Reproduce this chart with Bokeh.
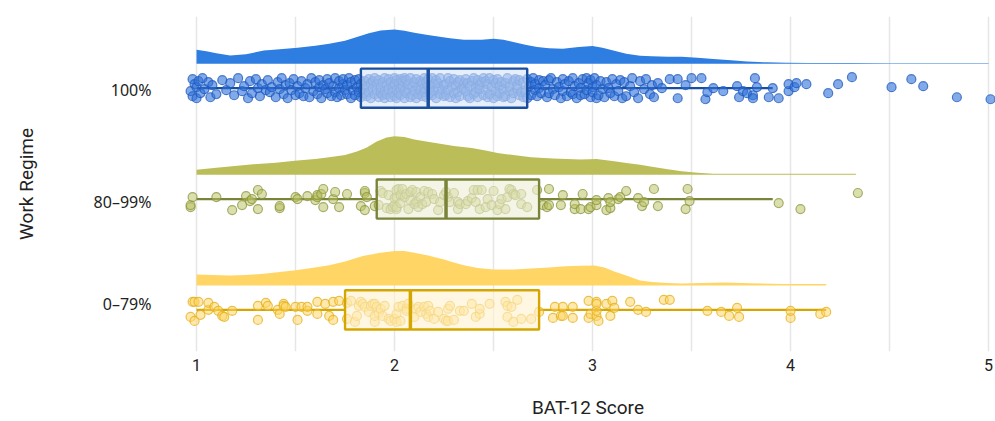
from bokeh.plotting import figure
from bokeh.models import Range1d, FixedTicker
from bokeh.embed import file_html
from bokeh.resources import INLINE

# ---------------- data ----------------
groups = ["100%", "80–99%", "0–79%"]
group_pos = [3, 2, 1]
label_pos = [2.986, 1.973, 1.050]

# box statistics: lower whisker, Q1, median, Q3, upper whisker
whisk_lo = [1.00, 1.00, 1.00]
q1 = [1.83, 1.91, 1.75]
median = [2.17, 2.26, 2.08]
q3 = [2.67, 2.73, 2.73]
whisk_hi = [3.91, 3.91, 4.18]

# density curves (x grid, relative height)
dens_x_100 = [1.00, 1.05, 1.10, 1.17, 1.25, 1.34, 1.42, 1.51, 1.60, 1.67, 1.75, 1.81, 1.87, 1.93,
              2.00, 2.05, 2.10, 2.16, 2.22, 2.28, 2.35, 2.44, 2.50, 2.55, 2.60, 2.66, 2.72, 2.78,
              2.85, 2.93, 3.00, 3.05, 3.11, 3.17, 3.24, 3.30, 3.38, 3.45, 3.53, 3.61, 3.70, 3.78,
              3.88, 3.98, 4.10, 4.30, 4.50, 4.75, 5.00]
dens_h_100 = [14, 12.5, 10.5, 8.3, 9.5, 13.3, 14.5, 16, 18, 20, 23, 26.7, 30.5, 33.3,
              34.3, 33, 31, 29, 27.3, 25.5, 24, 24, 25, 24, 21.7, 19, 16.7, 15.5,
              15, 16.7, 17.7, 16, 13, 10, 8, 7.5, 7, 7, 6, 4.7, 3.5, 2.3,
              1.5, 1.1, 0.9, 0.8, 0.7, 0.6, 0.6]
dens_x_80 = [1.00, 1.10, 1.26, 1.40, 1.51, 1.60, 1.67, 1.75, 1.81, 1.86, 1.91, 1.96, 2.00, 2.05,
             2.10, 2.16, 2.23, 2.30, 2.39, 2.46, 2.52, 2.60, 2.69, 2.80, 2.94, 3.02, 3.11, 3.18,
             3.24, 3.30, 3.38, 3.45, 3.53, 3.61, 3.70, 3.80, 4.00, 4.20, 4.33]
dens_h_80 = [5, 7, 10, 12, 14, 15.5, 17.3, 19.5, 23, 27, 33, 37, 38.3, 37.5,
             35, 33, 30.7, 28.5, 26.7, 24, 21.7, 19.5, 17.3, 16, 15, 15.7, 13.3, 11.5,
             10, 8, 5.5, 3.3, 1.8, 0.9, 0.8, 0.9, 1.0, 1.0, 1.0]
dens_x_0 = [1.00, 1.08, 1.17, 1.25, 1.34, 1.42, 1.50, 1.58, 1.67, 1.75, 1.84, 1.92, 2.00, 2.05,
            2.10, 2.17, 2.25, 2.30, 2.35, 2.42, 2.50, 2.60, 2.69, 2.78, 2.86, 2.94, 3.01, 3.06,
            3.11, 3.17, 3.24, 3.30, 3.38, 3.45, 3.55, 3.67, 3.80, 3.96, 4.18]
dens_h_0 = [11, 10.5, 10, 10.5, 11.7, 13.5, 15.3, 17.5, 20.3, 24, 29.3, 32.5, 34.5, 34.3,
            32.7, 30, 26, 23, 20.3, 17.5, 16, 16, 17, 18, 19.3, 19.8, 20, 18,
            14, 10, 5, 3.5, 2.5, 2, 2.5, 3, 2.2, 1.6, 1.5]

# individual scores and their vertical jitter
score_100 = [
    0.97, 0.98, 0.98, 0.99, 1.00, 1.00, 1.01, 1.02, 1.03, 1.04, 1.06, 1.07, 1.08, 1.10, 1.13, 1.15,
    1.17, 1.19, 1.21, 1.23, 1.24, 1.26, 1.27, 1.28, 1.30, 1.31, 1.32, 1.33, 1.35,
    1.36, 1.37, 1.38, 1.40, 1.41, 1.42, 1.43, 1.44, 1.45, 1.46, 1.47, 1.48, 1.49, 1.50, 1.51, 1.52, 1.53, 1.54, 1.55,
    1.56, 1.57, 1.58, 1.59, 1.60, 1.61, 1.62, 1.62, 1.63, 1.64, 1.65, 1.66, 1.66, 1.67, 1.68, 1.69, 1.70, 1.70, 1.71, 1.72, 1.72, 1.73, 1.74, 1.74, 1.75,
    1.76, 1.76, 1.77, 1.78, 1.78, 1.79, 1.80, 1.80, 1.81, 1.82, 1.82, 1.83, 1.83, 1.84, 1.85, 1.85,
    1.86, 1.86, 1.87, 1.87, 1.88, 1.88, 1.89, 1.89, 1.90, 1.90, 1.91, 1.91, 1.92, 1.92, 1.93, 1.93, 1.94, 1.94, 1.95, 1.95, 1.95,
    1.96, 1.96, 1.97, 1.97, 1.98, 1.98, 1.99, 1.99, 2.00, 2.00, 2.00, 2.01, 2.01, 2.01, 2.02, 2.02, 2.03, 2.03, 2.03, 2.04, 2.04, 2.05, 2.05, 2.05,
    2.06, 2.06, 2.07, 2.07, 2.08, 2.08, 2.09, 2.09, 2.10, 2.10, 2.11, 2.11, 2.12, 2.12, 2.13, 2.13, 2.14, 2.14, 2.15, 2.15, 2.15,
    2.16, 2.16, 2.17, 2.17, 2.18, 2.18, 2.19, 2.19, 2.20, 2.20, 2.21, 2.21, 2.22, 2.22, 2.23, 2.23, 2.24, 2.25, 2.25,
    2.26, 2.26, 2.27, 2.27, 2.28, 2.28, 2.29, 2.30, 2.30, 2.31, 2.31, 2.32, 2.32, 2.33, 2.33, 2.34, 2.35, 2.35,
    2.36, 2.36, 2.37, 2.37, 2.38, 2.38, 2.39, 2.40, 2.40, 2.41, 2.41, 2.42, 2.42, 2.43, 2.43, 2.44, 2.45, 2.45,
    2.46, 2.46, 2.47, 2.47, 2.48, 2.48, 2.49, 2.50, 2.50, 2.51, 2.51, 2.52, 2.52, 2.53, 2.53, 2.54, 2.55, 2.55,
    2.56, 2.56, 2.57, 2.58, 2.58, 2.59, 2.60, 2.60, 2.61, 2.62, 2.62, 2.63, 2.63, 2.64, 2.65, 2.65,
    2.66, 2.67, 2.67, 2.68, 2.69, 2.69, 2.70, 2.71, 2.71, 2.72, 2.73, 2.73, 2.74, 2.75,
    2.76, 2.77, 2.78, 2.78, 2.79, 2.80, 2.81, 2.82, 2.83, 2.84, 2.85, 2.85, 2.86, 2.87, 2.88, 2.89, 2.90, 2.90, 2.91, 2.92, 2.93, 2.94, 2.94, 2.95,
    2.96, 2.97, 2.97, 2.98, 2.99, 2.99, 3.00, 3.00, 3.01, 3.02, 3.02, 3.03, 3.04, 3.05, 3.06, 3.07, 3.08, 3.09, 3.10, 3.11, 3.12, 3.13, 3.14, 3.15,
    3.16, 3.17, 3.19, 3.20, 3.21, 3.23, 3.24, 3.26, 3.27, 3.29, 3.30, 3.31, 3.33, 3.35,
    3.39, 3.43, 3.43, 3.47, 3.50, 3.55, 3.57, 3.58, 3.61, 3.66, 3.73, 3.74, 3.76, 3.78, 3.81, 3.81, 3.82, 3.83,
    3.89, 3.91, 3.94, 3.99, 3.99, 4.02, 4.03, 4.08, 4.19, 4.24, 4.31, 4.51, 4.61, 4.67, 4.84, 5.01]
jitter_100 = [
    -3, 9, -8, 4, -10, 1, 7, -5, 10, -1, 6, -9, 3, -6, 8, -2,
    5, -7, 10, -3, 2, -10, 7, -5, 9, 0, -8, 4, -2,
    8, -4, 1, -9, 6, -1, 10, -6, 3, -10, 5, -2, 9, -7, 2, -5, 7, -8, 0,
    4, -9, 10, -3, 6, -6, 1, 8, -10, 3, -1, 9, -5, 5, -8, 2, 10, -4, -9, 7, 0, -7, 4, 9, -2,
    -6, 3, 10, -10, 6, -2, 8, -7, 1, -4, 9, -9, 4, -1, 7, -5,
    2, -8, 9, -4, 5, -10, 0, 7, -6, 10, -2, 4, -9, 8, -5, 1, -7, 6, -3, 10, -10,
    3, -6, 9, -1, -9, 6, 1, -4, 10, -8, 4, -2, 8, -10, 5, -5, 0, 9, -7, 2, 7, -3, -10, 10,
    -5, 8, -1, 4, -9, 10, -7, 2, 6, -3, 9, -10, 1, -6, 7, -2, 5, -8, 10, 0, -4,
    6, -9, 2, 9, -5, -1, 10, -7, 4, -3, 8, -10, 0, 5, -6, 10, -2, 3, -8,
    -7, 4, 10, -2, -9, 7, 1, -5, 9, -10, 3, 6, -4, 8, -8, 0, 5, -1,
    9, -3, -8, 5, 2, -10, 7, -6, 10, 0, -4, 8, -9, 3, -1, 6, -7, 10,
    -2, 7, -9, 4, 10, -6, 1, -10, 8, -3, 5, -8, 9, 2, -5, 6, -1, -9,
    5, -8, 10, -3, 1, -10, 7, -5, 9, -1, 3, -7, 8, -4, 6, -9,
    -4, 9, -10, 2, 6, -7, 10, -2, 4, -8, 8, 0, -5, 7,
    3, -9, 8, -5, 10, -1, -7, 6, 1, -10, 9, -3, 4, -8, 7, -4, 10, -6, 2, -10, 5, 0, -7, 9,
    -6, 10, -2, 5, -9, 8, 1, -4, 10, -10, 3, -7, 7, -1, -9, 6, 0, -5, 9, -8, 4, -3, 8, -10,
    6, -8, 2, 10, -4, -10, 7, -1, 9, -6, 3, -9, 5, 0,
    9, 9, -10, 3, 10, 10, -11, -4, 0, -3, 2, -9, -3, -5, -7, -10, 10, 1,
    -9, 0, -10, -3, 4, 1, 5, 4, -5, 4, 11, 1, 9, 2, -9, -11]

score_80 = [
    0.97, 0.97, 0.98, 1.10, 1.18, 1.23, 1.25, 1.27, 1.28, 1.31, 1.31, 1.33, 1.42, 1.42, 1.50, 1.51,
    1.56, 1.60, 1.61, 1.61, 1.63, 1.64, 1.64, 1.69, 1.70, 1.72, 1.76, 1.83, 1.85, 1.85, 1.85, 1.86,
    1.90, 1.92, 1.93, 1.94, 1.96,
    1.97, 1.98, 1.99, 2.00, 2.00, 2.01, 2.01, 2.01, 2.01, 2.02, 2.03, 2.03, 2.04, 2.05, 2.06, 2.07,
    2.08, 2.08, 2.09, 2.10, 2.11, 2.11, 2.12, 2.13, 2.14, 2.15, 2.16, 2.17, 2.19, 2.20, 2.22, 2.23,
    2.25, 2.26, 2.27, 2.28, 2.30, 2.32, 2.32, 2.33, 2.36, 2.37, 2.39, 2.40, 2.41, 2.42, 2.43, 2.44,
    2.46, 2.47, 2.49, 2.50, 2.52, 2.53, 2.54, 2.56, 2.57, 2.58, 2.59, 2.60, 2.61, 2.64, 2.64, 2.67, 2.72,
    2.75, 2.77, 2.78, 2.78, 2.84, 2.85, 2.91, 2.91, 2.94, 2.95, 2.98, 2.99, 3.02, 3.02, 3.07, 3.08,
    3.09, 3.09, 3.13, 3.14, 3.17, 3.23, 3.25, 3.26, 3.31, 3.33, 3.47, 3.48, 3.49, 3.94, 4.05, 4.34]
jitter_80 = [
    -8, -6, 2, 2, -11, -6, 3, -2, 0, 9, -10, 5, -9, -7, 2, 0,
    3, -1, 2, 4, 5, -8, 10, 0, 7, -8, 5, -7, -11, 6, 8, 2,
    -7, -6, 8, 6, -9,
    4, -10, -8, -6, 1, -10, -8, 2, 9, 10, 4, -4, 10, 2, 5, -10,
    -1, 7, 9, -5, -3, 7, -8, 2, -5, 8, -3, 7, 5, 0, -11, -3,
    4, 7, 2, -3, 6, -3, -10, -5, -5, -2, 1, 9, -3, 9, -10, 9,
    -8, 0, -6, 8, -11, -5, 0, -10, 2, 10, 9, 5, 4, -5, 5, -8, 9,
    -6, -8, 10, -6, -6, 4, -10, -5, -10, 5, -10, -8, -6, -1, -11, 1,
    -9, -3, 0, 2, 8, 1, -7, -3, 10, -7, -10, 10, -2, -4, -10, 6]

score_0 = [
    0.97, 0.99, 0.98, 0.99, 1.01, 1.02, 1.06, 1.06, 1.09, 1.11, 1.13, 1.14, 1.18, 1.31, 1.31, 1.35,
    1.36, 1.41, 1.42, 1.44, 1.44, 1.45, 1.51, 1.50, 1.53, 1.56, 1.56, 1.61, 1.61, 1.65, 1.67, 1.69,
    1.69, 1.72, 1.76, 1.76, 1.78,
    1.80, 1.81, 1.82, 1.83, 1.84, 1.85, 1.87, 1.88, 1.89, 1.90, 1.90, 1.90, 1.91, 1.92, 1.93, 1.94,
    1.95, 1.97, 1.98, 2.00, 2.01, 2.01, 2.02, 2.03, 2.04, 2.06, 2.06, 2.07, 2.10, 2.11, 2.12, 2.13,
    2.15, 2.16, 2.17, 2.17, 2.18, 2.20, 2.22, 2.25, 2.26, 2.27, 2.27, 2.28, 2.30, 2.33, 2.35, 2.39,
    2.41, 2.43, 2.43, 2.48, 2.56, 2.57, 2.57, 2.59, 2.60, 2.62, 2.64, 2.69,
    2.73, 2.80, 2.81, 2.84, 2.85, 2.85, 2.90, 2.90, 2.98, 2.98, 2.99, 3.02, 3.02, 3.03, 3.02, 3.02,
    3.07, 3.09, 3.10, 3.11, 3.19, 3.23, 3.27, 3.36, 3.39, 3.58, 3.65, 3.69, 3.73, 3.74, 4.00, 4.00,
    4.15, 4.18]
jitter_0 = [
    -7, -11, 8, 8, 8, -5, 0, 7, 3, -1, -6, -7, -1, -10, 4, 7,
    4, 0, -4, 6, 4, 3, -10, 3, 3, -1, 3, -4, 8, 6, -6, -10,
    8, 9, -9, 7, 9,
    -12, -6, 4, 8, 6, 3, -2, 4, 6, -12, -6, 6, 3, -3, 1, -6,
    4, -9, -11, -9, -4, -12, 3, -11, 4, 1, -1, 6, -7, 1, 3, -2,
    3, -4, 4, -7, -1, -9, -2, -9, -11, -11, 1, 4, -10, -1, -1, 6,
    -7, -4, 1, 6, 8, -7, 4, 3, -12, 10, -9, -9,
    -2, -8, 3, -6, 3, -6, -8, 3, -8, 9, -4, -6, -1, -11, 8, 6,
    6, -6, 9, 2, 8, 0, -2, 10, 10, -1, -2, -6, 2, -7, -8, -1,
    -4, -2]

scores = [score_100, score_80, score_0]
jitters = [jitter_100, jitter_80, jitter_0]
dens_x = [dens_x_100, dens_x_80, dens_x_0]
dens_h = [dens_h_100, dens_h_80, dens_h_0]

x_ticks = [1, 2, 3, 4, 5]
grid_ticks = [1, 1.5, 2, 2.5, 3, 3.5, 4, 4.5, 5]

# ---------------- styling ----------------
dens_col = ["#2e7de1", "#bbbe58", "#ffd666"]
pt_fill = ["#2f72d8", "#b7bf5c", "#ffd35e"]
pt_line = ["#1d58bd", "#8c9640", "#e3b01a"]
pt_alpha = [0.6, 0.5, 0.5]
box_line = ["#1a4f9f", "#7a8438", "#d6a600"]
box_fill = ["#d6e2f7", "#eceed5", "#fff2cf"]

PX = 1 / 110.5          # one screen pixel in y data units
BASE_OFF = 24.3 * PX    # density baseline above box centre
BOX_HALF = 19.5 * PX

p = figure(width=995, height=421, output_backend="svg", toolbar_location=None,
           x_range=Range1d(0.919, 5.035), y_range=Range1d(0.6244, 3.647),
           min_border_left=180, min_border_right=0, min_border_top=16, min_border_bottom=69)
p.outline_line_color = None
p.background_fill_color = "white"
p.border_fill_color = "white"

for i in range(3):
    yc = group_pos[i]
    base = yc + BASE_OFF
    xs = dens_x[i]
    p.varea(x=xs, y1=[base] * len(xs), y2=[base + h * PX for h in dens_h[i]],
            fill_color=dens_col[i], fill_alpha=1.0)
    p.segment(x0=[whisk_lo[i], q3[i]], y0=[yc, yc], x1=[q1[i], whisk_hi[i]], y1=[yc, yc],
              line_color=box_line[i], line_width=2.2)
    n = min(len(scores[i]), len(jitters[i]))
    p.scatter(x=scores[i][:n], y=[yc + j * PX for j in jitters[i][:n]], size=9,
              fill_color=pt_fill[i], fill_alpha=pt_alpha[i], line_color=pt_line[i],
              line_alpha=0.75, line_width=1.2)
    p.quad(left=[q1[i]], right=[q3[i]], bottom=[yc - BOX_HALF], top=[yc + BOX_HALF],
           fill_color=box_fill[i], fill_alpha=0.6, line_color=box_line[i], line_width=2.4)
    p.segment(x0=[median[i]], y0=[yc - BOX_HALF], x1=[median[i]], y1=[yc + BOX_HALF],
              line_color=box_line[i], line_width=3.5)

# grid
p.ygrid.grid_line_color = None
p.xgrid.ticker = FixedTicker(ticks=grid_ticks)
p.xgrid.grid_line_color = "#e6e6e6"
p.xgrid.grid_line_width = 1.5

# x axis
p.xaxis.ticker = FixedTicker(ticks=x_ticks)
p.xaxis.axis_line_color = None
p.xaxis.major_tick_line_color = None
p.xaxis.minor_tick_line_color = None
p.xaxis.major_tick_out = 0
p.xaxis.major_tick_in = 0
p.xaxis.major_label_standoff = 7
p.xaxis.major_label_text_font = "Roboto"
p.xaxis.major_label_text_font_size = "16px"
p.xaxis.major_label_text_color = "#222222"
p.xaxis.axis_label = "BAT-12 Score"
p.xaxis.axis_label_text_font = "Roboto"
p.xaxis.axis_label_text_font_size = "19px"
p.xaxis.axis_label_text_font_style = "normal"
p.xaxis.axis_label_text_color = "#222222"
p.xaxis.axis_label_standoff = 22

# y axis
p.yaxis.ticker = FixedTicker(ticks=label_pos)
p.yaxis.major_label_overrides = {label_pos[k]: groups[k] for k in range(3)}
p.yaxis.axis_line_color = None
p.yaxis.major_tick_line_color = None
p.yaxis.minor_tick_line_color = None
p.yaxis.major_tick_out = 0
p.yaxis.major_tick_in = 0
p.yaxis.major_label_standoff = 29
p.yaxis.major_label_text_font = "Noto Sans"
p.yaxis.major_label_text_font_size = "16px"
p.yaxis.major_label_text_color = "#222222"
p.yaxis.axis_label = "Work Regime"
p.yaxis.axis_label_text_font = "Roboto"
p.yaxis.axis_label_text_font_size = "19px"
p.yaxis.axis_label_text_font_style = "normal"
p.yaxis.axis_label_text_color = "#222222"
p.yaxis.axis_label_standoff = 53

open("out.html", "w").write(file_html(p, INLINE))
